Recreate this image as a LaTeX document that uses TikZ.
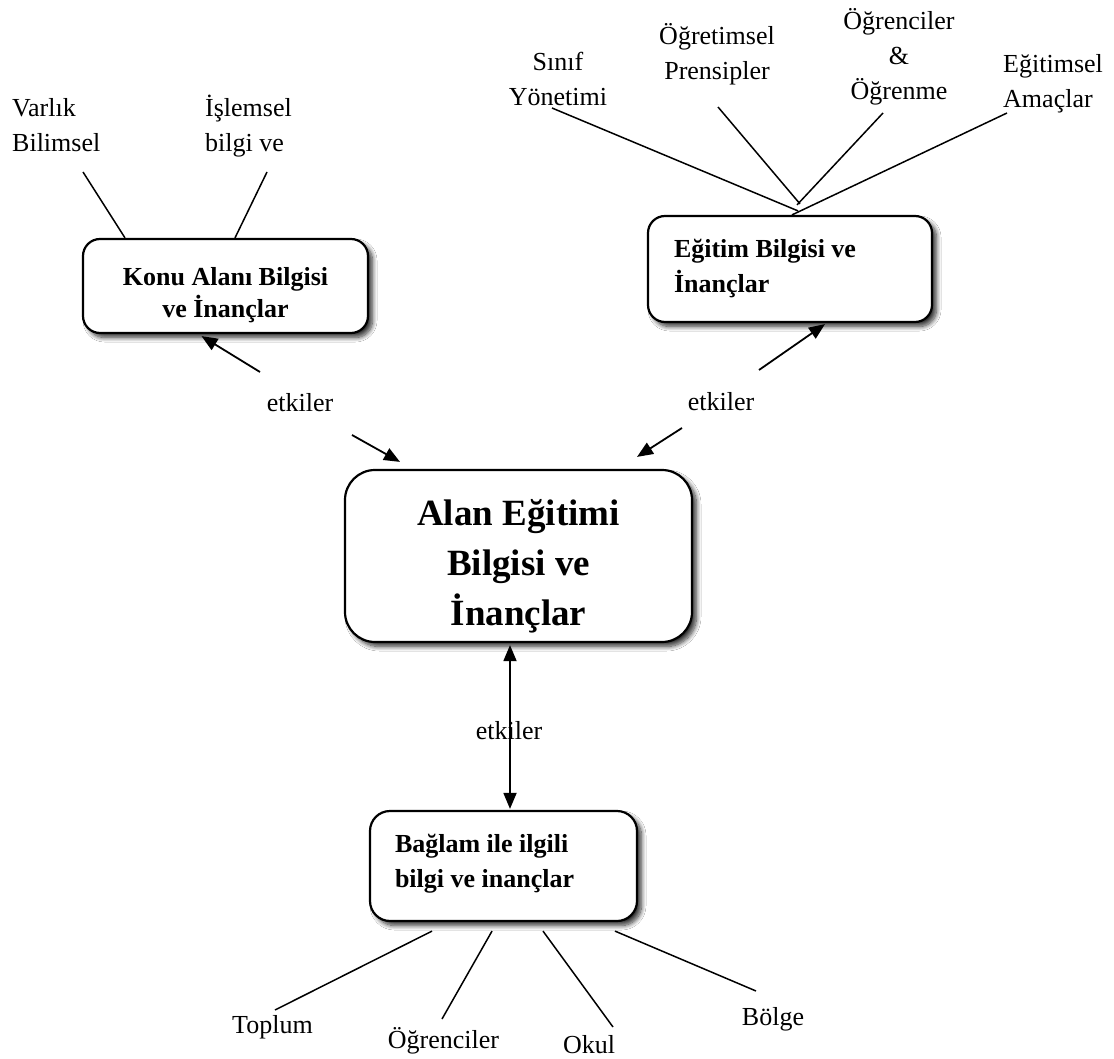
\documentclass[tikz,border=0pt]{standalone}
\usepackage{fontspec}
\setmainfont{Liberation Serif}
\usetikzlibrary{arrows.meta,shadows.blur}
\newcommand\mylines[2]{\begin{tabular}[t]{@{}#1@{}}#2\end{tabular}}
\tikzset{
  box/.style={draw, line width=2.2pt, fill=white, inner sep=0pt,
    blur shadow={shadow xshift=4.5pt, shadow yshift=-4.5pt, shadow blur radius=4.5pt,
                 shadow blur steps=10, shadow opacity=80},
    font=\bfseries\fontsize{26}{35}\selectfont},
  lbl/.style={inner sep=0pt, font=\fontsize{26}{35}\selectfont},
  link/.style={line width=1.5pt},
  arr/.style={line width=1.8pt, -{Triangle[length=16pt,width=13pt]}},
  darr/.style={line width=1.8pt, {Triangle[length=16pt,width=13pt]}-{Triangle[length=16pt,width=13pt]}}
}
\begin{document}
\begin{tikzpicture}[x=1pt,y=-1pt]
\fill[white] (0,0) rectangle (1114,1059);
\useasboundingbox (0,0) rectangle (1114,1059);

% boxes
\node[box, rounded corners=17pt, minimum width=285pt, minimum height=94pt,
      text height=0pt, text depth=0pt, font=\bfseries\fontsize{26}{31}\selectfont] (konu) at (225.5,286)
  {\mylines{c}{Konu Alanı Bilgisi\\ve İnançlar}};
\node[box, rounded corners=17pt, minimum width=284pt, minimum height=106pt,
      text height=0pt, text depth=22pt] (egitim) at (790,269)
  {\mylines{p{232pt}}{Eğitim Bilgisi ve\\İnançlar}};
\node[box, rounded corners=30pt, minimum width=347pt, minimum height=172pt,
      text height=0pt, text depth=62pt, font=\bfseries\fontsize{37}{50}\selectfont] (alan) at (518.5,556)
  {\mylines{c}{Alan Eğitimi\\Bilgisi ve\\İnançlar}};
\node[box, rounded corners=20pt, minimum width=267pt, minimum height=110pt,
      text height=0pt, text depth=28pt] (baglam) at (503.5,866)
  {\mylines{p{217pt}}{Bağlam ile ilgili\\bilgi ve inançlar}};

% labels
\node[lbl, anchor=base west] (varlik) at (12,117) {\mylines{l}{Varlık\\Bilimsel}};
\node[lbl, anchor=base west] (islemsel) at (205,117) {\mylines{l}{İşlemsel\\bilgi ve}};
\node[lbl, anchor=base] (sinif) at (558,71) {\mylines{c}{Sınıf\\Yönetimi}};
\node[lbl, anchor=base] (ogretimsel) at (717,45) {\mylines{c}{Öğretimsel\\Prensipler}};
\node[lbl, anchor=base] (ogrenciler) at (899,30) {\mylines{c}{Öğrenciler\\\&\\Öğrenme}};
\node[lbl, anchor=base west] (amaclar) at (1003,73) {\mylines{l}{Eğitimsel\\Amaçlar}};

\node[lbl, anchor=base] (etk1) at (300,411) {etkiler};
\node[lbl, anchor=base] (etk2) at (721,410) {etkiler};
\node[lbl, anchor=base] (etk3) at (509,739) {etkiler};

\node[lbl, anchor=base] (toplum) at (272.5,1033) {Toplum};
\node[lbl, anchor=base] (ogr) at (443.5,1048) {Öğrenciler};
\node[lbl, anchor=base] (okul) at (589,1053) {Okul};
\node[lbl, anchor=base] (bolge) at (773,1025) {Bölge};

% free ends of connectors
\coordinate (cVarlik) at (83,172);
\coordinate (cIslem) at (267,172);
\coordinate (cSinif) at (552,108);
\coordinate (cPrens) at (718,107);
\coordinate (cOgrenme) at (883,113);
\coordinate (cAmac) at (1007,113);
\coordinate (cToplum) at (275,1010);
\coordinate (cOgr) at (442,1019);
\coordinate (cOkul) at (613,1027);
\coordinate (cBolge) at (756,991);
\coordinate (e1) at (260,372);
\coordinate (e2) at (352,435);
\coordinate (e3) at (759,370);
\coordinate (e4) at (682,428);

% connectors to the label texts
\draw[link] (cVarlik) -- ([xshift=-100.5pt]konu.north);
\draw[link] (cIslem) -- ([xshift=9.5pt]konu.north);
\draw[link] (cSinif) -- ([xshift=8pt,yshift=4pt]egitim.north);
\draw[link] (cPrens) -- ([xshift=10pt,yshift=11pt]egitim.north);
\draw[link] (cOgrenme) -- ([xshift=7pt,yshift=10pt]egitim.north);
\draw[link] (cAmac) -- ([xshift=2pt]egitim.north);
\draw[link] ([xshift=-71.5pt,yshift=-9pt]baglam.south) -- (cToplum);
\draw[link] ([xshift=-11.5pt,yshift=-9pt]baglam.south) -- (cOgr);
\draw[link] ([xshift=39.5pt,yshift=-9pt]baglam.south) -- (cOkul);
\draw[link] ([xshift=111.5pt,yshift=-9pt]baglam.south) -- (cBolge);

% influence arrows
\draw[arr] (e1) -- ([xshift=-24pt,yshift=-2pt]konu.south);
\draw[arr] (e2) -- ([xshift=-118.5pt,yshift=7pt]alan.north);
\draw[arr] (e3) -- ([xshift=35pt,yshift=-1pt]egitim.south);
\draw[arr] (e4) -- ([xshift=118.5pt,yshift=12pt]alan.north);
\draw[darr] ([xshift=-8.5pt,yshift=-2pt]alan.south) -- ([xshift=6.5pt,yshift=1pt]baglam.north);
\end{tikzpicture}
\end{document}
